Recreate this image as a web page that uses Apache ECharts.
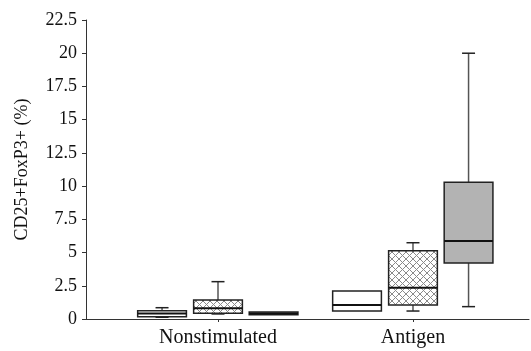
<!DOCTYPE html>
<html><head><meta charset="utf-8">
<script src="https://cdn.jsdelivr.net/npm/echarts@6/dist/echarts.min.js"></script>
<style>html,body{margin:0;padding:0;background:#fff}#c{width:531px;height:351px}</style>
</head><body><div id="c"></div>
<script>
// Data: [min, Q1, median, Q3, max] per category
const categories = ['Nonstimulated', 'Antigen'];
const whiteBox   = [[0.13, 0.17, 0.41, 0.62, 0.85], [0.60, 0.60, 1.05, 2.11, 2.11]];
const hatchBox   = [[0.38, 0.43, 0.80, 1.43, 2.81], [0.60, 1.05, 2.36, 5.14, 5.74]];
const grayBox    = [[0.32, 0.32, 0.42, 0.52, 0.52], [0.93, 4.21, 5.87, 10.29, 20.0]];
const yMax = 22.5, yInterval = 2.5;

const FONT = 'Liberation Serif';
const pc = document.createElement('canvas');
pc.width = 7; pc.height = 7;
const g = pc.getContext('2d');
g.fillStyle = '#fff'; g.fillRect(0,0,7,7);
g.strokeStyle = '#8a8a8a'; g.lineWidth = 1;
g.beginPath(); g.moveTo(0,0); g.lineTo(7,7); g.moveTo(7,0); g.lineTo(0,7); g.stroke();

const offsets = [-0.287, 0, 0.285];
const halfW = 0.125;
function mk(vals){ return vals.map((v,i)=>[i+1].concat(v)); }
function render(off, fill){
  return function(params, api){
    const x = api.value(0) + off;
    const pMin = api.coord([x, api.value(1)]);
    const pQ1 = api.coord([x, api.value(2)]);
    const pMed = api.coord([x, api.value(3)]);
    const pQ3 = api.coord([x, api.value(4)]);
    const pMax = api.coord([x, api.value(5)]);
    const l = api.coord([x - halfW, 0])[0], r = api.coord([x + halfW, 0])[0];
    const cx = pMed[0], cap = 6.5;
    const ls = {stroke:'#555', lineWidth:1.5};
    const children = [];
    if (pMax[1] < pQ3[1] - 0.5) {
      children.push({type:'line', shape:{x1:cx,y1:pQ3[1],x2:cx,y2:pMax[1]}, style:ls});
      children.push({type:'line', shape:{x1:cx-cap,y1:pMax[1],x2:cx+cap,y2:pMax[1]}, style:{stroke:'#222',lineWidth:1.5}});
    }
    if (pMin[1] > pQ1[1] + 0.5) {
      children.push({type:'line', shape:{x1:cx,y1:pQ1[1],x2:cx,y2:pMin[1]}, style:ls});
      children.push({type:'line', shape:{x1:cx-cap,y1:pMin[1],x2:cx+cap,y2:pMin[1]}, style:{stroke:'#222',lineWidth:1.5}});
    }
    children.push({type:'rect', shape:{x:l, y:pQ3[1], width:r-l, height:pQ1[1]-pQ3[1]}, style:{fill:fill, stroke:'#222', lineWidth:1.5}});
    children.push({type:'line', shape:{x1:l,y1:pMed[1],x2:r,y2:pMed[1]}, style:{stroke:'#111', lineWidth:2}});
    return {type:'group', children};
  };
}
const chart = echarts.init(document.getElementById('c'));
chart.setOption({
  animation:false,
  grid:{left:86, right:2, top:20, bottom:32},
  xAxis:{type:'value', min:0.323, max:2.595,
    splitLine:{show:false},
    axisLine:{lineStyle:{color:'#333', width:1}},
    axisTick:{customValues:[1,2], length:3, lineStyle:{color:'#333'}},
    axisLabel:{customValues:[1,2], formatter:v=>categories[Math.round(v)-1]||'', color:'#111', fontFamily:FONT, fontSize:20, margin:9}
  },
  yAxis:{type:'value', min:0, max:yMax, interval:yInterval,
    name:'CD25+FoxP3+ (%)', nameLocation:'middle', nameGap:55, nameRotate:90,
    nameTextStyle:{color:'#111', fontFamily:FONT, fontSize:18},
    splitLine:{show:false},
    axisLine:{show:true, lineStyle:{color:'#333'}},
    axisTick:{show:true, length:4, lineStyle:{color:'#333'}},
    axisLabel:{color:'#111', fontFamily:FONT, fontSize:18, margin:9}
  },
  series:[
    {type:'custom', renderItem:render(offsets[0], '#fff'), data:mk(whiteBox)},
    {type:'custom', renderItem:render(offsets[1], {image:pc, repeat:'repeat'}), data:mk(hatchBox)},
    {type:'custom', renderItem:render(offsets[2], '#b3b3b3'), data:mk(grayBox)}
  ]
});
</script></body></html>
